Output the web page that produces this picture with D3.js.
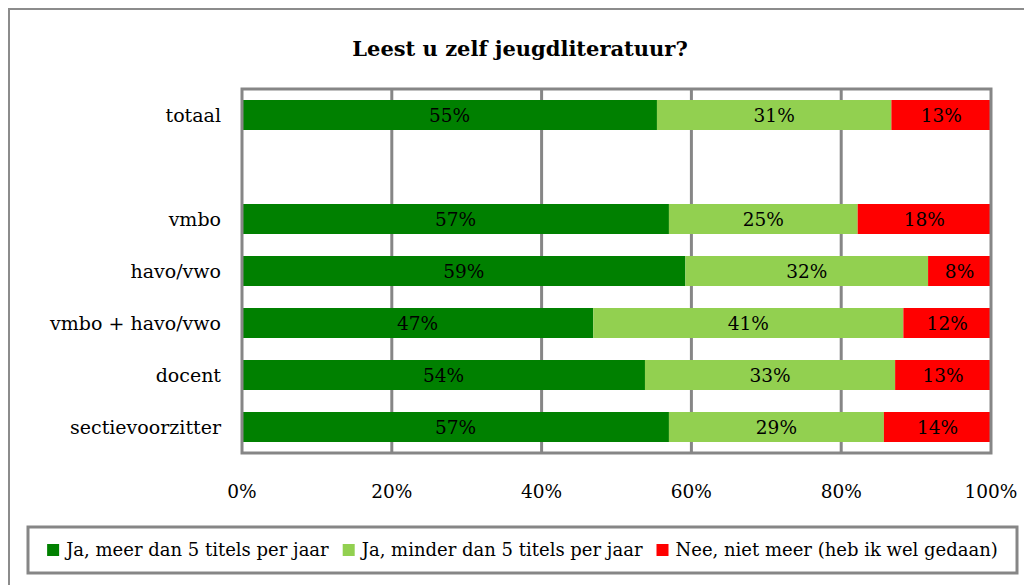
<!DOCTYPE html>
<html><head><meta charset="utf-8">
<script src="https://cdn.jsdelivr.net/npm/d3@7"></script>
<style>
body{margin:0;background:#fff;}
text{font-family:"DejaVu Serif",serif;fill:#000;}
</style></head>
<body><svg id="c" width="1024" height="585"></svg>
<script>
const categories = ["totaal", "", "vmbo", "havo/vwo", "vmbo + havo/vwo", "docent", "sectievoorzitter"];
const seriesNames = ["Ja, meer dan 5 titels per jaar", "Ja, minder dan 5 titels per jaar", "Nee, niet meer (heb ik wel gedaan)"];
const seriesColors = ["#008000", "#92d050", "#ff0000"];
const meerDan5 = [55.4, null, 57.0, 59.2, 46.9, 53.8, 57.0];
const minderDan5 = [31.3, null, 25.2, 32.4, 41.4, 33.4, 28.7];
const nietMeer = [13.3, null, 17.8, 8.4, 11.7, 12.8, 14.3];
const xTicks = [0, 20, 40, 60, 80, 100];
const title = "Leest u zelf jeugdliteratuur?";

const svg = d3.select("#c");
const m = {left: 242, right: 991, top: 89, bottom: 453};

svg.append("rect").attr("x", 9).attr("y", 9).attr("width", 1030).attr("height", 600)
  .attr("fill", "none").attr("stroke", "#8c8c8c").attr("stroke-width", 2);

svg.append("text").attr("x", 520).attr("y", 56).attr("text-anchor", "middle")
  .attr("font-size", 21).attr("font-weight", "bold").text(title);

const x = d3.scaleLinear().domain([0, 100]).range([m.left, m.right]);
const y = d3.scaleBand().domain(categories.map((c, i) => i)).range([m.top, m.bottom]).paddingInner(22/52).paddingOuter(11/52);

svg.append("g").selectAll("line").data(xTicks.slice(1, -1)).join("line")
  .attr("x1", d => x(d)).attr("x2", d => x(d)).attr("y1", m.top).attr("y2", m.bottom)
  .attr("stroke", "#868686").attr("stroke-width", 3);

const series = [meerDan5, minderDan5, nietMeer];
const rows = categories.map((c, i) => {
  let acc = 0;
  return series.map((s, k) => { const v = s[i]; const seg = {i, k, x0: acc, x1: acc + (v || 0), v}; acc += (v || 0); return seg; });
}).flat().filter(d => d.v != null);

svg.append("g").selectAll("rect").data(rows).join("rect")
  .attr("x", d => x(d.x0)).attr("width", d => x(d.x1) - x(d.x0))
  .attr("y", d => y(d.i)).attr("height", y.bandwidth())
  .attr("fill", d => seriesColors[d.k]);

svg.append("g").selectAll("text").data(rows).join("text")
  .attr("x", d => (x(d.x0) + x(d.x1)) / 2).attr("y", d => y(d.i) + y.bandwidth() / 2)
  .attr("dy", "0.36em").attr("text-anchor", "middle").attr("font-size", 18.5)
  .text(d => Math.round(d.v) + "%");

svg.append("rect").attr("x", m.left).attr("y", m.top).attr("width", m.right - m.left).attr("height", m.bottom - m.top)
  .attr("fill", "none").attr("stroke", "#868686").attr("stroke-width", 3);

svg.append("g").selectAll("text").data(categories).join("text")
  .attr("x", 221).attr("y", (d, i) => y(i) + y.bandwidth() / 2).attr("dy", "0.36em")
  .attr("text-anchor", "end").attr("font-size", 19).text(d => d);

svg.append("g").selectAll("text").data(xTicks).join("text")
  .attr("x", d => x(d)).attr("y", 491).attr("dy", "0.36em").attr("text-anchor", "middle")
  .attr("font-size", 18.5).text(d => d + "%");

svg.append("rect").attr("x", 28).attr("y", 527).attr("width", 989).attr("height", 46)
  .attr("fill", "none").attr("stroke", "#868686").attr("stroke-width", 3);
const lg = svg.append("g");
const items = lg.selectAll("g").data(seriesNames).join("g");
items.append("rect").attr("width", 12).attr("height", 12).attr("y", -6).attr("fill", (d, i) => seriesColors[i]);
items.append("text").attr("x", 19).attr("dy", "0.36em").attr("font-size", 18).text(d => d);
let lx = 0; const gap = 14;
const widths = [];
items.each(function() { widths.push(19 + d3.select(this).select("text").node().getComputedTextLength()); });
const total = d3.sum(widths) + gap * (widths.length - 1);
lx = 28 + 989 / 2 - total / 2;
items.attr("transform", (d, i) => { const t = `translate(${lx},550)`; lx += widths[i] + gap; return t; });
</script></body></html>
